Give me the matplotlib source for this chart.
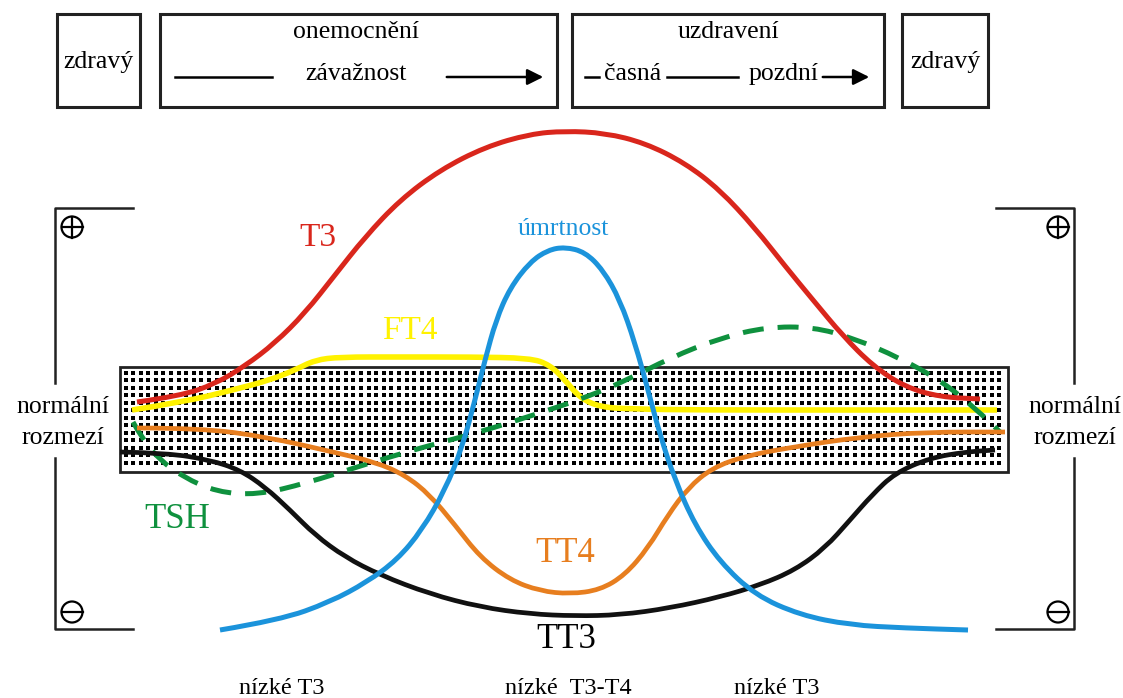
import numpy as np
import matplotlib
matplotlib.use("Agg")
import matplotlib.pyplot as plt
from matplotlib.path import Path
from matplotlib.patches import PathPatch, Rectangle, Circle

# curve points (pixel coords, y downwards)
t3_x = [137, 180, 215, 245, 275, 305, 335, 365, 400, 440, 485, 530, 565, 605, 645, 685, 720, 755, 785, 813, 843, 873, 905, 940, 980]
t3_y = [402, 396, 384, 366, 343, 313, 275, 237, 200, 170, 147, 134, 131, 133, 143, 163, 190, 228, 266, 300, 336, 366, 387, 397, 399]

umrt_x = [220, 280, 330, 367, 397, 422, 445, 462, 475, 485, 496, 510, 530, 548, 565, 585, 603, 620, 635, 648, 660, 675, 695, 720, 755, 800, 850, 905, 968]
umrt_y = [630, 620, 602, 582, 560, 530, 490, 448, 400, 360, 320, 288, 262, 250, 247, 252, 270, 300, 343, 390, 435, 480, 525, 562, 595, 615, 625, 628, 630]

ft4_x = [132, 183, 233, 270, 295, 315, 340, 400, 470, 530, 550, 565, 580, 600, 630, 700, 850, 997]
ft4_y = [410, 402, 390, 380, 370, 360, 357, 357, 357, 358, 365, 380, 398, 407, 409, 410, 410, 410]

tt4_x = [137, 200, 267, 333, 375, 405, 430, 455, 480, 510, 540, 570, 600, 625, 648, 668, 688, 712, 745, 793, 860, 927, 1005]
tt4_y = [428, 428, 437, 452, 462, 475, 495, 525, 557, 580, 591, 594, 590, 575, 548, 515, 488, 468, 456, 447, 437, 432, 432]

tt3_x = [120, 167, 210, 240, 265, 290, 315, 345, 380, 430, 480, 530, 575, 620, 670, 720, 760, 795, 825, 850, 872, 895, 930, 965, 995]
tt3_y = [452, 453, 460, 470, 487, 510, 535, 557, 575, 594, 607, 614, 616, 615, 608, 597, 585, 570, 548, 520, 495, 473, 458, 452, 450]

tsh_x = [133, 143, 160, 183, 217, 257, 307, 360, 420, 480, 540, 587, 627, 670, 720, 767, 813, 853, 900, 943, 977, 1000]
tsh_y = [422, 440, 460, 477, 492, 495, 483, 466, 448, 432, 413, 397, 380, 358, 338, 327, 327, 338, 358, 382, 410, 432]

top_boxes = [(57, 140), (160, 557), (572, 884), (902, 988)]
bottom_labels = ["nízké T3", "nízké  T3-T4", "nízké T3"]
bottom_label_x = [282, 568, 777]

RED = "#d9261c"
BLUE = "#1b93db"
YELLOW = "#fff200"
ORANGE = "#e77e1f"
GREEN = "#0f913e"
SERIF = "Liberation Serif"


def smooth_path(xs, ys):
    # quadratic bezier through midpoints -> smooth curve near the read points
    pts = list(zip(xs, ys))
    verts = [pts[0]]
    codes = [Path.MOVETO]
    for i in range(1, len(pts) - 1):
        mid = ((pts[i][0] + pts[i + 1][0]) / 2, (pts[i][1] + pts[i + 1][1]) / 2)
        verts += [pts[i], mid]
        codes += [Path.CURVE3, Path.CURVE3]
    verts.append(pts[-1])
    codes.append(Path.LINETO)
    return Path(verts, codes)


def draw_curve(ax, xs, ys, color, lw=3.6, ls="-", z=3):
    patch = PathPatch(smooth_path(xs, ys), fill=False, edgecolor=color, lw=lw,
                      linestyle=ls, capstyle="butt", zorder=z)
    ax.add_patch(patch)


fig = plt.figure(figsize=(11.23, 6.98), dpi=100)
ax = fig.add_axes([0, 0, 1, 1])
ax.set_xlim(0, 1123)
ax.set_ylim(698, 0)
ax.axis("off")

# top phase boxes
for x0, x1 in top_boxes:
    ax.add_patch(Rectangle((x0, 14), x1 - x0, 93, fill=False, lw=2.2, edgecolor="#222222"))
ax.text(98, 62, "zdravý", family=SERIF, fontsize=18.5, ha="center", va="center")
ax.text(945, 62, "zdravý", family=SERIF, fontsize=18.5, ha="center", va="center")
ax.text(356, 32, "onemocnění", family=SERIF, fontsize=18.5, ha="center", va="center")
ax.text(356, 74, "závažnost", family=SERIF, fontsize=18.5, ha="center", va="center")
ax.plot([175, 272], [77, 77], color="black", lw=1.8)
ax.annotate("", xy=(546, 77), xytext=(444, 77),
            arrowprops=dict(arrowstyle="-|>", lw=1.8, color="black", mutation_scale=24))
ax.text(728, 32, "uzdravení", family=SERIF, fontsize=18.5, ha="center", va="center")
ax.plot([585, 599], [77, 77], color="black", lw=1.8)
ax.text(633, 74, "časná", family=SERIF, fontsize=18.5, ha="center", va="center")
ax.plot([667, 738], [77, 77], color="black", lw=1.8)
ax.text(784, 74, "pozdní", family=SERIF, fontsize=18.5, ha="center", va="center")
ax.annotate("", xy=(872, 77), xytext=(820, 77),
            arrowprops=dict(arrowstyle="-|>", lw=1.8, color="black", mutation_scale=24))

# side brackets
for x_v, x_h in [(55, 133), (1074, 996)]:
    ax.plot([x_h, x_v, x_v], [208, 208, 383], color="#222222", lw=1.8)
    ax.plot([x_v, x_v, x_h], [458, 629, 629], color="#222222", lw=1.8)
for cx in [72, 1058]:
    ax.add_patch(Circle((cx, 227), 10.5, fill=False, lw=1.6, edgecolor="black"))
    ax.plot([cx - 10.5, cx + 10.5], [227, 227], color="black", lw=1.6)
    ax.plot([cx, cx], [216.5, 237.5], color="black", lw=1.6)
    ax.add_patch(Circle((cx, 612), 10.5, fill=False, lw=1.6, edgecolor="black"))
    ax.plot([cx - 10.5, cx + 10.5], [612, 612], color="black", lw=1.6)
for tx in [63, 1075]:
    ax.text(tx, 407, "normální", family=SERIF, fontsize=18.5, ha="center", va="center")
    ax.text(tx, 438, "rozmezí", family=SERIF, fontsize=18.5, ha="center", va="center")

# dotted normal range band
ax.add_patch(Rectangle((120, 367), 888, 105, fill=True, facecolor="white",
                       lw=2.0, edgecolor="#222222", zorder=1))
gx, gy = np.meshgrid(np.arange(125.5, 1005, 7.6), np.arange(372.5, 470, 7.5))
ax.scatter(gx.ravel(), gy.ravel(), marker="s", s=4.8, color="black", lw=0, zorder=1)

# hormone curves
draw_curve(ax, ft4_x, ft4_y, YELLOW, lw=4.0, z=2)
draw_curve(ax, tsh_x, tsh_y, GREEN, lw=3.6, ls=(0, (4.2, 2.8)), z=3)
draw_curve(ax, tt4_x, tt4_y, ORANGE, lw=3.4, z=3)
draw_curve(ax, tt3_x, tt3_y, "#111111", lw=3.4, z=3)
draw_curve(ax, t3_x, t3_y, RED, lw=3.6, z=4)
draw_curve(ax, umrt_x, umrt_y, BLUE, lw=3.6, z=5)

# curve labels
ax.text(318, 238, "T3", family=SERIF, fontsize=24, color=RED, ha="center", va="center")
ax.text(563, 229, "úmrtnost", family=SERIF, fontsize=18.5, color=BLUE, ha="center", va="center")
ax.text(410, 331, "FT4", family=SERIF, fontsize=24, color=YELLOW, ha="center", va="center")
ax.text(177, 519, "TSH", family=SERIF, fontsize=25, color=GREEN, ha="center", va="center")
ax.text(565, 554, "TT4", family=SERIF, fontsize=25, color=ORANGE, ha="center", va="center")
ax.text(566, 639, "TT3", family=SERIF, fontsize=25, color="black", ha="center", va="center")

for lab, lx in zip(bottom_labels, bottom_label_x):
    ax.text(lx, 689, lab, family=SERIF, fontsize=17.5, ha="center", va="center")

fig.savefig("out.png", dpi=100)
